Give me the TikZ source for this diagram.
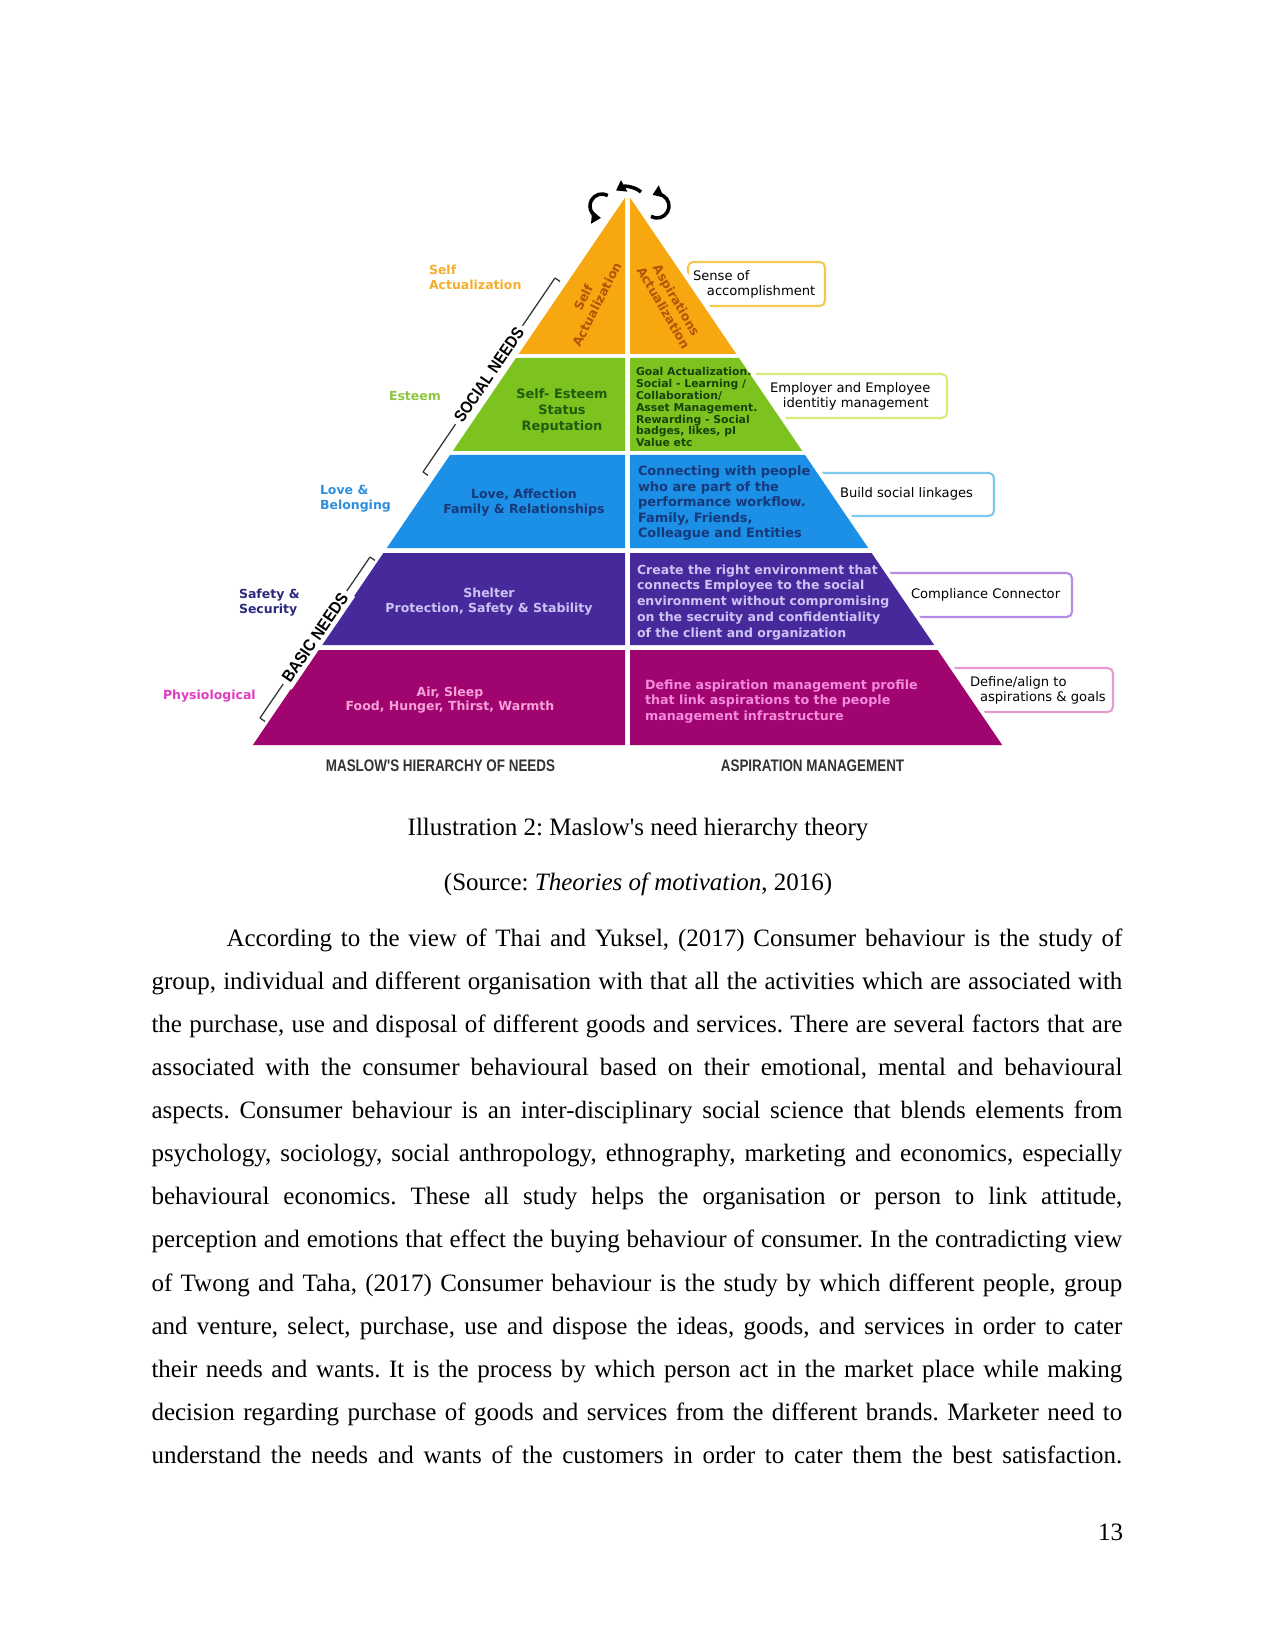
\documentclass[tikz,border=0pt]{standalone}
\usepackage{fontspec}
\usepackage{graphicx}
\setmainfont{Liberation Serif}
\newfontfamily\vfont{DejaVu Sans}
\newfontfamily\hfont{Liberation Sans}
\usetikzlibrary{arrows.meta}
\frenchspacing
\definecolor{cOrange}{HTML}{F7A70F}
\definecolor{cGreen}{HTML}{7DC31F}
\definecolor{cBlue}{HTML}{1C8FE6}
\definecolor{cPurple}{HTML}{48299B}
\definecolor{cMagenta}{HTML}{A0056F}
\definecolor{tOrange}{HTML}{B5530B}
\definecolor{tGreen}{HTML}{1E5C10}
\definecolor{tGreenR}{HTML}{17430A}
\definecolor{tBlue}{HTML}{17397A}
\definecolor{tPurple}{HTML}{CCC2F4}
\definecolor{tMagL}{HTML}{F6A0D8}
\definecolor{tMagR}{HTML}{F38ADA}
\definecolor{lSelf}{HTML}{F2AE2E}
\definecolor{lEsteem}{HTML}{8DC641}
\definecolor{lLove}{HTML}{2E8FDF}
\definecolor{lSafety}{HTML}{2C2A7E}
\definecolor{lPhys}{HTML}{E03CC0}
\definecolor{bSense}{HTML}{F2C94C}
\definecolor{bEmp}{HTML}{DDE87A}
\definecolor{bBuild}{HTML}{7CC8EE}
\definecolor{bComp}{HTML}{B48CE6}
\definecolor{bDef}{HTML}{E89AD0}
\definecolor{capGray}{HTML}{333333}
\newcommand\pyrlayer[3]{%
  \fill[#3] ({627.5-0.68*(#1-194)},#1) -- (625,#1) -- (625,#2) -- ({627.5-0.68*(#2-194)},#2) -- cycle;
  \fill[#3] ({627.5+0.68*(#1-194)},#1) -- (630,#1) -- (630,#2) -- ({627.5+0.68*(#2-194)},#2) -- cycle;}
\newcommand\capsq[3]{\resizebox{#1}{#2}{\hfont\bfseries #3}}
\begin{document}
\begin{tikzpicture}[x=0.48pt,y=-0.48pt,
  every node/.style={inner sep=0pt,outer sep=0pt},
  bsix/.style={font=\vfont\bfseries\fontsize{6}{7.2}\selectfont},
  lbl/.style={font=\vfont\bfseries\fontsize{6}{7.2}\selectfont,align=left},
  boxtxt/.style={font=\vfont\fontsize{6.3}{7.2}\selectfont,align=left},
  boxst/.style={fill=white,line width=1pt,rounded corners=2.5pt},
  brk/.style={draw=black!80,line width=0.6pt},
  curl/.style={line width=1.7pt,-{Triangle[length=4.5pt,width=6pt]}},
  body/.style={anchor=base west,font=\fontsize{12}{14}\selectfont},
  capt/.style={anchor=base,font=\fontsize{12}{14}\selectfont}]
\useasboundingbox (0,0) rectangle (1275,1650);
\fill[white] (0,0) rectangle (1275,1650);

% side boxes (behind pyramid)
\draw[boxst,draw=bSense] (688,262) rectangle (825,306);
\draw[boxst,draw=bEmp] (740,374) rectangle (947,418);
\draw[boxst,draw=bBuild] (800,473) rectangle (994,516);
\draw[boxst,draw=bComp] (870,573) rectangle (1072,617);
\draw[boxst,draw=bDef] (940,668) rectangle (1113,712);
\draw[white,line width=3pt] (627.5,190) -- (1006,750);

% pyramid
\pyrlayer{197.7}{354}{cOrange}
\pyrlayer{358}{451}{cGreen}
\pyrlayer{455}{548}{cBlue}
\pyrlayer{553}{645}{cPurple}
\pyrlayer{650}{745}{cMagenta}

% layer texts
\node[bsix,text=tOrange,align=center,rotate=63] (oL) at (590,301) {Self\\Actualization};
\node[bsix,text=tOrange,align=center,rotate=-60] (oR) at (670,304) {Aspirations\\Actualization};
\node[text=tGreen,align=center,font=\vfont\bfseries\fontsize{6.2}{7.7}\selectfont] (gL) at (562,411) {Self- Esteem\\Status\\Reputation};
\node[anchor=north west,text=tGreenR,align=left,font=\vfont\bfseries\fontsize{5.2}{5.68}\selectfont] (gR) at (636,367.5) {Goal Actualization.\\Social - Learning /\\Collaboration/\\Asset Management.\\Rewarding - Social\\badges, likes, pI\\Value etc};
\node[bsix,text=tBlue,align=center] (bL) at (524,502.5) {Love, Affection\\Family \& Relationships};
\node[anchor=north west,text=tBlue,align=left,font=\vfont\bfseries\fontsize{6.2}{7.44}\selectfont] (bR) at (638,466) {Connecting with people\\who are part of the\\performance workflow.\\Family, Friends,\\Colleague and Entities};
\node[bsix,text=tPurple,align=center] (pL) at (489,601.5) {Shelter\\Protection, Safety \& Stability};
\node[anchor=north west,text=tPurple,align=left,font=\vfont\bfseries\fontsize{6}{7.56}\selectfont] (pR) at (637,564.5) {Create the right environment that\\connects Employee to the social\\environment without compromising\\on the secruity and confidentiality\\of the client and organization};
\node[text=tMagL,align=center,font=\vfont\bfseries\fontsize{6}{6.8}\selectfont] (mL) at (450,700) {Air, Sleep\\Food, Hunger, Thirst, Warmth};
\node[anchor=north west,text=tMagR,align=left,font=\vfont\bfseries\fontsize{6.1}{7.44}\selectfont] (mR) at (645,679.5) {Define aspiration management profile\\that link aspirations to the people\\management infrastructure};

% box texts
\node[boxtxt,anchor=north west] (sense) at (693,270.5) {Sense of\\\hspace*{6.7pt}accomplishment};
\node[boxtxt,anchor=north west] (emp) at (770,382.5) {Employer and Employee\\\hspace*{6.2pt}identitiy management};
\node[boxtxt,anchor=west] (build) at (840,494) {Build social linkages};
\node[boxtxt,anchor=west] (comp) at (911,595) {Compliance Connector};
\node[boxtxt,anchor=north west] (def) at (970,676.5) {Define/align to\\\hspace*{4.8pt}aspirations \& goals};

% left labels
\node[lbl,text=lSelf,anchor=north west] (lab1) at (429,265.5) {Self\\Actualization};
\node[lbl,text=lEsteem,anchor=west] (lab2) at (389,396) {Esteem};
\node[lbl,text=lLove,anchor=north west] (lab3) at (320,485.5) {Love \&\\Belonging};
\node[lbl,text=lSafety,anchor=north west] (lab4) at (239,589) {Safety \&\\Security};
\node[lbl,text=lPhys,anchor=west] (lab5) at (163,696) {Physiological};

% brackets
\coordinate (sT) at (555,278);
\coordinate (sB) at (423,472);
\draw[brk] (sB) -- node[sloped,fill=white,inner sep=2pt] (sn) {\capsq{53pt}{5.6pt}{SOCIAL NEEDS}} (sT);
\draw[brk] (sT) -- ++(5,3.4);
\draw[brk] (sB) -- ++(5,3.4);
\coordinate (bT) at (370,557);
\coordinate (bB) at (260,718);
\draw[brk] (bB) -- node[sloped,fill=white,inner sep=2pt] (bn) {\capsq{50pt}{5.6pt}{BASIC NEEDS}} (bT);
\draw[brk] (bT) -- ++(5,3.4);
\draw[brk] (bB) -- ++(5,3.4);

% curls at apex
\draw[curl] (607.8,195.5) arc[start angle=-61,end angle=-265,radius=12];
\draw[curl] (651,216.4) arc[start angle=120,end angle=-112,radius=12];
\draw[curl] (641,192) .. controls (634,186) and (624,186) .. (616,190.5);

% bottom captions
\node[text=capGray] (capL) at (440.5,765.5) {\capsq{110pt}{5.6pt}{MASLOW\textquotesingle S HIERARCHY OF NEEDS}};
\node[text=capGray] (capR) at (812.5,765.5) {\capsq{88pt}{5.6pt}{ASPIRATION MANAGEMENT}};

% caption
\node[capt] (cap1) at (638,835.5) {Illustration 2: Maslow\textquotesingle s need hierarchy theory};
\node[capt] (cap2) at (638,890) {(Source: \textit{Theories of motivation}, 2016)};

% body
\node[body] (t1) at (226.5,946.2) {\makebox[430pt][s]{According to the view of Thai and Yuksel, (2017) Consumer behaviour is the study of}};
\node[body] (t2) at (151.5,989.3) {\makebox[466pt][s]{group, individual and different organisation with that all the activities which are associated with}};
\node[body] (t3) at (151.5,1032.4) {\makebox[466pt][s]{the purchase, use and disposal of different goods and services. There are several factors that are}};
\node[body] (t4) at (151.5,1075.5) {\makebox[466pt][s]{associated with the consumer behavioural based on their emotional, mental and behavioural}};
\node[body] (t5) at (151.5,1118.6) {\makebox[466pt][s]{aspects. Consumer behaviour is an inter-disciplinary social science that blends elements from}};
\node[body] (t6) at (151.5,1161.7) {\makebox[466pt][s]{psychology, sociology, social anthropology, ethnography, marketing and economics, especially}};
\node[body] (t7) at (151.5,1204.8) {\makebox[466pt][s]{behavioural economics. These all study helps the organisation or person to link attitude,}};
\node[body] (t8) at (151.5,1247.9) {\makebox[466pt][s]{perception and emotions that effect the buying behaviour of consumer. In the contradicting view}};
\node[body] (t9) at (151.5,1291) {\makebox[466pt][s]{of Twong and Taha, (2017) Consumer behaviour is the study by which different people, group}};
\node[body] (t10) at (151.5,1334.1) {\makebox[466pt][s]{and venture, select, purchase, use and dispose the ideas, goods, and services in order to cater}};
\node[body] (t11) at (151.5,1377.2) {\makebox[466pt][s]{their needs and wants. It is the process by which person act in the market place while making}};
\node[body] (t12) at (151.5,1420.3) {\makebox[466pt][s]{decision regarding purchase of goods and services from the different brands. Marketer need to}};
\node[body] (t13) at (151.5,1463.4) {\makebox[466pt][s]{understand the needs and wants of the customers in order to cater them the best satisfaction.}};
\node[anchor=base east,font=\fontsize{12}{14}\selectfont] (pg) at (1123,1540) {13};
\end{tikzpicture}
\end{document}
